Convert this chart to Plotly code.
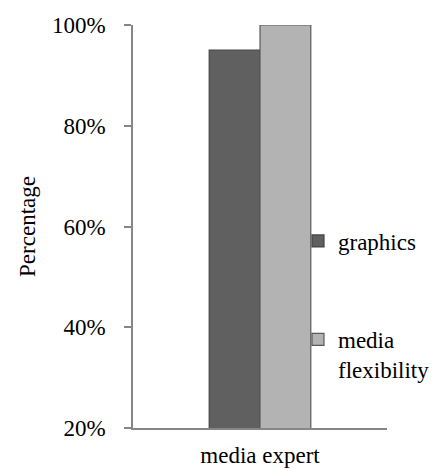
import plotly.graph_objects as go

# Chart data
categories = ["media expert"]
graphics = [0.95]
media_flexibility = [1.00]
y_ticks = [0.2, 0.4, 0.6, 0.8, 1.0]
y_tick_labels = ["20%", "40%", "60%", "80%", "100%"]

W, H = 444, 470
FONT = "Liberation Serif"
FSIZE = 23
AXIS_GREY = "#868686"

fig = go.Figure()
fig.add_trace(go.Bar(
    name="graphics", x=categories, y=graphics,
    marker=dict(color="#606060", line=dict(color="#444444", width=1.2)),
    legend="legend", showlegend=True, cliponaxis=False,
))
fig.add_trace(go.Bar(
    name="media<br>flexibility", x=categories, y=media_flexibility,
    marker=dict(color="#b3b3b3", line=dict(color="#5a5a5a", width=1.2)),
    legend="legend2", showlegend=True, cliponaxis=False,
))

fig.update_layout(
    width=W, height=H,
    margin=dict(l=133, r=57, t=25, b=42, autoexpand=False),
    paper_bgcolor="white", plot_bgcolor="white",
    font=dict(family=FONT, size=FSIZE, color="black"),
    showlegend=True,
    barmode="group", bargap=0.6, bargroupgap=0,
    legend=dict(
        xref="container", yref="container",
        x=298 / W, y=1 - 241 / H, xanchor="left", yanchor="middle",
        font=dict(family=FONT, size=FSIZE, color="black"),
        itemwidth=30, bgcolor="rgba(0,0,0,0)",
    ),
    legend2=dict(
        xref="container", yref="container",
        x=298 / W, y=1 - 318 / H, xanchor="left", yanchor="top",
        font=dict(family=FONT, size=FSIZE, color="black"),
        itemwidth=30, valign="top", bgcolor="rgba(0,0,0,0)",
    ),
    xaxis=dict(
        showline=True, linecolor=AXIS_GREY, linewidth=1.5,
        ticks="", showgrid=False, zeroline=False,
        ticklabelstandoff=6,
        tickfont=dict(family=FONT, size=FSIZE, color="black"),
    ),
    yaxis=dict(
        range=[0.2, 1.0], tickvals=y_ticks, ticktext=y_tick_labels,
        showline=True, linecolor=AXIS_GREY, linewidth=1.5,
        ticks="outside", ticklen=7, tickcolor=AXIS_GREY, tickwidth=1.5,
        ticklabelstandoff=14,
        showgrid=False, zeroline=False,
        tickfont=dict(family=FONT, size=FSIZE, color="black"),
        title=dict(text="Percentage", standoff=10,
                   font=dict(family=FONT, size=FSIZE, color="black")),
    ),
)

fig.write_html("out.html")
